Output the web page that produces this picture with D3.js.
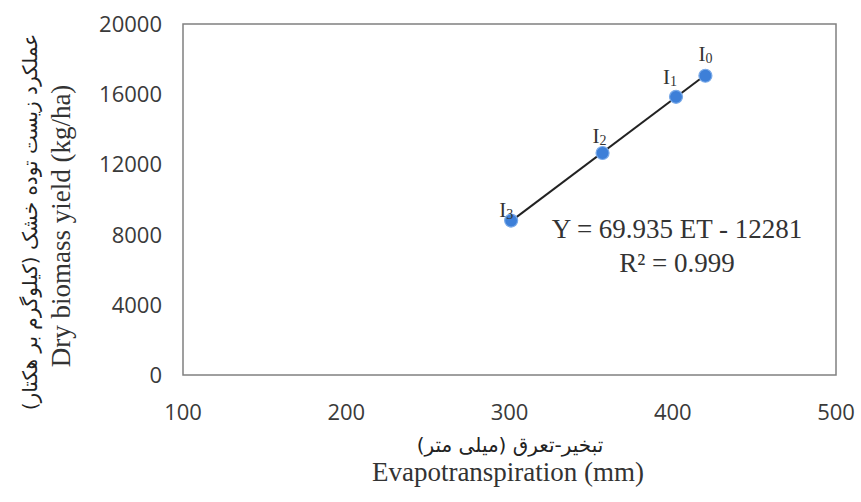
<!DOCTYPE html>
<html>
<head>
<meta charset="utf-8">
<script src="https://cdn.jsdelivr.net/npm/d3@7"></script>
<style>
  body { margin: 0; background: #fff; }
  svg { display: block; }
</style>
</head>
<body>
<svg id="chart"></svg>
<script>
// Chart data
const treatments = ["0", "1", "2", "3"];
const etValues = [420, 402, 357, 301];
const yieldValues = [17050, 15850, 12650, 8800];
const xTicks = [100, 200, 300, 400, 500];
const yTicks = [0, 4000, 8000, 12000, 16000, 20000];
const slope = 69.935;
const intercept = -12281;
const rSquared = "0.999";

const width = 861;
const height = 502;
const margin = { top: 24, right: 25, bottom: 127, left: 183 };

const svg = d3.select("#chart")
  .attr("width", width)
  .attr("height", height);

const x = d3.scaleLinear()
  .domain([100, 500])
  .range([margin.left, width - margin.right]);

const y = d3.scaleLinear()
  .domain([0, 20000])
  .range([height - margin.bottom, margin.top]);

const sansFont = "'Open Sans', 'Liberation Sans', sans-serif";
const serifFont = "'Liberation Serif', 'DejaVu Serif', serif";
const persianFont = "'DejaVu Sans', sans-serif";

// Plot frame
svg.append("rect")
  .attr("x", x(100))
  .attr("y", y(20000))
  .attr("width", x(500) - x(100))
  .attr("height", y(0) - y(20000))
  .attr("fill", "none")
  .attr("stroke", "#808080")
  .attr("stroke-width", 1.5);

// Tick labels
svg.append("g")
  .selectAll("text")
  .data(yTicks)
  .join("text")
  .attr("x", 162)
  .attr("y", d => y(d) + 8)
  .attr("text-anchor", "end")
  .style("font-family", sansFont)
  .style("font-size", "22px")
  .attr("fill", "#3a3a3a")
  .text(d => d);

svg.append("g")
  .selectAll("text")
  .data(xTicks)
  .join("text")
  .attr("x", d => x(d))
  .attr("y", 420)
  .attr("text-anchor", "middle")
  .style("font-family", sansFont)
  .style("font-size", "22px")
  .attr("fill", "#3a3a3a")
  .text(d => d);

// Trend line
const etExtent = d3.extent(etValues);
svg.append("line")
  .attr("x1", x(etExtent[0]))
  .attr("y1", y(slope * etExtent[0] + intercept))
  .attr("x2", x(etExtent[1]))
  .attr("y2", y(slope * etExtent[1] + intercept))
  .attr("stroke", "#222")
  .attr("stroke-width", 2);

// Points
const points = treatments.map((t, i) => ({ t, et: etValues[i], yld: yieldValues[i] }));

svg.append("g")
  .selectAll("circle")
  .data(points)
  .join("circle")
  .attr("cx", d => x(d.et))
  .attr("cy", d => y(d.yld))
  .attr("r", 6.5)
  .attr("fill", "#3d7fd8")
  .attr("stroke", "#7aaae8")
  .attr("stroke-width", 1.2);

// Point labels (I with subscript)
const labelOffsets = { "0": [0, -15], "1": [-6, -13], "2": [-3, -10], "3": [-5, -4] };
const labels = svg.append("g")
  .selectAll("text")
  .data(points)
  .join("text")
  .attr("x", d => x(d.et) + labelOffsets[d.t][0])
  .attr("y", d => y(d.yld) + labelOffsets[d.t][1])
  .attr("text-anchor", "middle")
  .style("font-family", serifFont)
  .style("font-size", "21px")
  .attr("fill", "#333");
labels.append("tspan").text("I");
labels.append("tspan")
  .attr("dy", 2)
  .style("font-size", "14px")
  .text(d => d.t);

// Equation
const eq = svg.append("g")
  .style("font-family", serifFont)
  .style("font-size", "27px")
  .attr("fill", "#333")
  .attr("text-anchor", "middle");
eq.append("text")
  .attr("x", 677)
  .attr("y", 238)
  .text(`Y = ${slope} ET - ${-intercept}`);
eq.append("text")
  .attr("x", 677)
  .attr("y", 272)
  .text(`R² = ${rSquared}`);

// X axis titles
svg.append("text")
  .attr("x", 510)
  .attr("y", 452)
  .attr("text-anchor", "middle")
  .attr("direction", "rtl")
  .style("font-family", persianFont)
  .style("font-size", "20px")
  .attr("fill", "#222")
  .text("تبخیر-تعرق (میلی متر)");

svg.append("text")
  .attr("x", 508)
  .attr("y", 481)
  .attr("text-anchor", "middle")
  .style("font-family", serifFont)
  .style("font-size", "27px")
  .attr("fill", "#333")
  .text("Evapotranspiration (mm)");

// Y axis titles
svg.append("text")
  .attr("transform", "translate(37,222) rotate(-90)")
  .attr("text-anchor", "middle")
  .attr("direction", "rtl")
  .style("font-family", persianFont)
  .style("font-size", "20px")
  .attr("fill", "#222")
  .text("عملکرد زیست توده خشک (کیلوگرم بر هکتار)");

svg.append("text")
  .attr("transform", "translate(70,226) rotate(-90)")
  .attr("text-anchor", "middle")
  .style("font-family", serifFont)
  .style("font-size", "27px")
  .attr("fill", "#333")
  .text("Dry biomass yield (kg/ha)");
</script>
</body>
</html>
